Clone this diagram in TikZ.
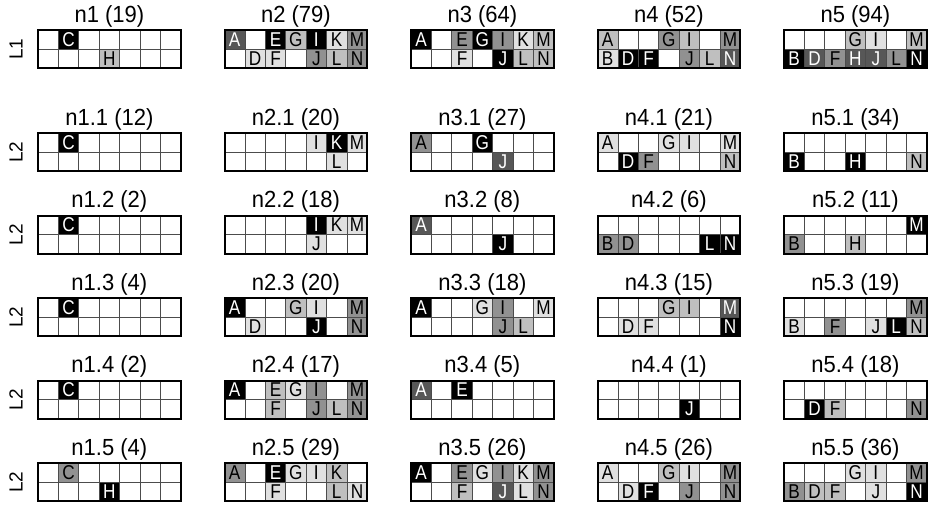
\documentclass[tikz,border=0pt]{standalone}
\usepackage{fontspec}
\setmainfont{Liberation Sans}
\usetikzlibrary{positioning}

\tikzset{
  cell/.style={draw=black!70, line width=0.7pt, minimum width=20.4pt, minimum height=19pt,
    inner sep=0pt, outer sep=0pt, anchor=north west, font=\fontsize{20}{20}\selectfont},
  lv-w/.style={fill=white},
  lv-v/.style={fill=black!12},
  lv-l/.style={fill=black!25},
  lv-m/.style={fill=black!43},
  lv-d/.style={fill=black!66, text=white},
  lv-k/.style={fill=black, text=white},
  frame/.style={draw=black, line width=2pt},
  title/.style={anchor=base, font=\fontsize{22}{22}\selectfont},
  level/.style={rotate=90, font=\fontsize{19}{19}\selectfont}
}

\def\blankcode{w}
% un panel: nombre, x, y, titulo, tonos (fila de arriba y fila de abajo)
\newcommand{\panel}[5]{%
  \node[title] (#1-t) at ({#2+71.4}, {#3-8}) {\scalebox{1}[1.06]{#4}};
  \foreach \s [count=\k from 0] in {#5} {
    \pgfmathtruncatemacro{\cc}{mod(\k,7)}
    \pgfmathtruncatemacro{\rr}{int(\k/7)}
    \pgfmathparse{{"A","B","C","D","E","F","G","H","I","J","K","L","M","N"}[2*\cc+\rr]}
    \edef\lt{\pgfmathresult}
    \ifx\s\blankcode \def\lt{}\fi
    \node[cell, lv-\s] (#1-\k) at ({#2+\cc*20.4}, {#3+\rr*19}) {\scalebox{0.86}[1]{\lt}};
  }
  \draw[frame] (#1-0.north west) rectangle (#1-13.south east);
}

\begin{document}
\begin{tikzpicture}[x=1pt, y=-1pt]
  \useasboundingbox (0,0) rectangle (928,504);
  % Etiquetas de nivel
  \node[level] (lab0) at (16,49) {L1};
  \foreach \y [count=\i] in {133,215.5,298,380.5,463}
    \node[level] (lab\i) at (16,\y+19) {L2};
  % Nivel 1
  \panel{p-1-0}{38}{30}{n1 (19)}{w,k,w,w,w,w,w, w,w,w,l,w,w,w}
  \panel{p-2-0}{224.5}{30}{n2 (79)}{d,w,k,l,k,v,m, w,v,v,w,m,l,m}
  \panel{p-3-0}{411}{30}{n3 (64)}{k,w,m,k,m,v,l, w,w,v,w,k,l,l}
  \panel{p-4-0}{597.5}{30}{n4 (52)}{l,w,w,m,l,w,m, v,k,k,w,m,l,d}
  \panel{p-5-0}{784}{30}{n5 (94)}{w,w,w,l,v,w,l, k,d,m,d,d,m,k}
  % Nivel 2, fila 1
  \panel{p-1-1}{38}{133}{n1.1 (12)}{w,k,w,w,w,w,w, w,w,w,w,w,w,w}
  \panel{p-2-1}{224.5}{133}{n2.1 (20)}{w,w,w,w,v,k,v, w,w,w,w,w,v,w}
  \panel{p-3-1}{411}{133}{n3.1 (27)}{m,w,w,k,w,w,w, w,w,w,w,d,w,w}
  \panel{p-4-1}{597.5}{133}{n4.1 (21)}{v,w,w,v,v,w,v, w,k,m,w,w,w,l}
  \panel{p-5-1}{784}{133}{n5.1 (34)}{w,w,w,w,w,w,w, k,w,w,k,w,w,l}
  % fila 2
  \panel{p-1-2}{38}{215.5}{n1.2 (2)}{w,k,w,w,w,w,w, w,w,w,w,w,w,w}
  \panel{p-2-2}{224.5}{215.5}{n2.2 (18)}{w,w,w,w,k,v,v, w,w,w,w,v,w,w}
  \panel{p-3-2}{411}{215.5}{n3.2 (8)}{d,w,w,w,w,w,w, w,w,w,w,k,w,w}
  \panel{p-4-2}{597.5}{215.5}{n4.2 (6)}{w,w,w,w,w,w,w, m,m,w,w,w,k,k}
  \panel{p-5-2}{784}{215.5}{n5.2 (11)}{w,w,w,w,w,w,k, m,w,w,l,w,w,w}
  % fila 3
  \panel{p-1-3}{38}{298}{n1.3 (4)}{w,k,w,w,w,w,w, w,w,w,w,w,w,w}
  \panel{p-2-3}{224.5}{298}{n2.3 (20)}{k,w,w,l,v,w,m, w,v,w,w,k,w,m}
  \panel{p-3-3}{411}{298}{n3.3 (18)}{k,w,w,v,m,w,v, w,w,w,w,m,l,w}
  \panel{p-4-3}{597.5}{298}{n4.3 (15)}{w,w,w,l,l,w,d, w,v,v,w,w,w,k}
  \panel{p-5-3}{784}{298}{n5.3 (19)}{w,w,w,w,w,w,m, v,w,m,w,v,k,l}
  % fila 4
  \panel{p-1-4}{38}{380.5}{n1.4 (2)}{w,k,w,w,w,w,w, w,w,w,w,w,w,w}
  \panel{p-2-4}{224.5}{380.5}{n2.4 (17)}{k,w,l,v,m,w,m, w,w,l,w,m,l,m}
  \panel{p-3-4}{411}{380.5}{n3.4 (5)}{d,w,k,w,w,w,w, w,w,w,w,w,w,w}
  \panel{p-4-4}{597.5}{380.5}{n4.4 (1)}{w,w,w,w,w,w,w, w,w,w,w,k,w,w}
  \panel{p-5-4}{784}{380.5}{n5.4 (18)}{w,w,w,w,w,w,w, w,k,l,w,w,w,m}
  % fila 5
  \panel{p-1-5}{38}{463}{n1.5 (4)}{w,m,w,w,w,w,w, w,w,w,k,w,w,w}
  \panel{p-2-5}{224.5}{463}{n2.5 (29)}{m,w,k,v,v,l,w, w,w,v,w,w,l,v}
  \panel{p-3-5}{411}{463}{n3.5 (26)}{k,w,m,v,m,v,m, w,w,l,w,d,v,m}
  \panel{p-4-5}{597.5}{463}{n4.5 (26)}{v,w,w,l,v,w,m, w,v,k,w,m,w,m}
  \panel{p-5-5}{784}{463}{n5.5 (36)}{w,w,w,v,v,w,m, m,l,l,w,v,w,k}
\end{tikzpicture}
\end{document}
